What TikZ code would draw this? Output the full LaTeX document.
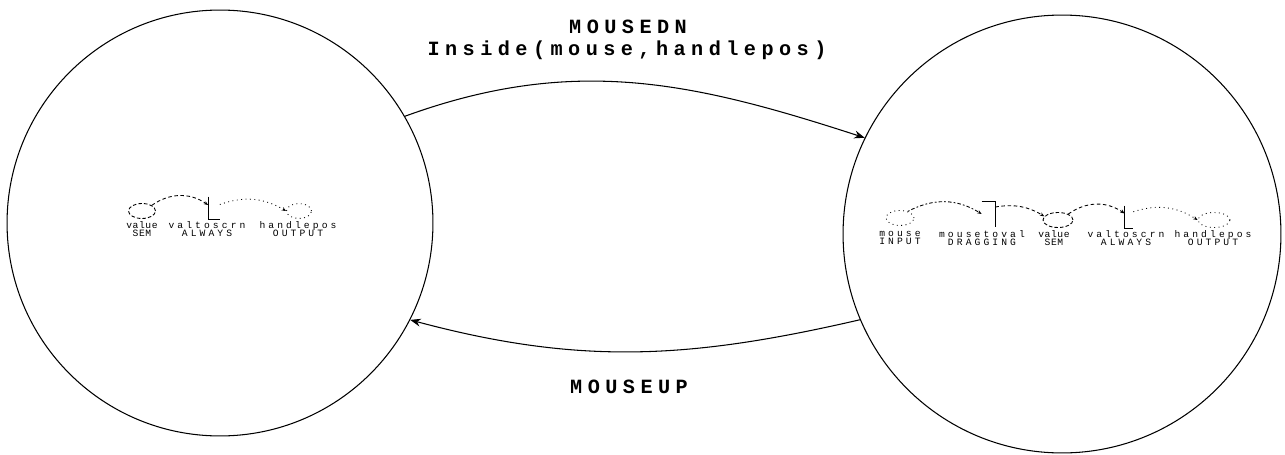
\documentclass[tikz,border=0pt]{standalone}
\usepackage{fontspec}
\newfontfamily\eventmono[LetterSpace=27]{Liberation Mono}
\newfontfamily\tagmono[LetterSpace=32]{Liberation Mono}
\newfontfamily\tagmonotight[LetterSpace=6]{Liberation Mono}
\usetikzlibrary{arrows.meta,shapes.geometric}

\begin{document}
\begin{tikzpicture}[x=0.02cm, y=0.02cm,
  state/.style  = {draw, circle, line width=0.6pt, inner sep=0pt},
  trans/.style  = {line width=0.6pt, -{Stealth[length=6pt,width=4.5pt]}},
  event/.style  = {font=\eventmono\bfseries\fontsize{11.5}{13}\selectfont, inner sep=0pt},
  var/.style    = {draw, ellipse, line width=0.5pt, inner sep=0pt, minimum height=0.3cm},
  sem/.style    = {var, dash pattern=on 2pt off 1.2pt},
  io/.style     = {var, dotted},
  func/.style   = {inner sep=0pt},
  fbar/.style   = {line width=0.7pt},
  flow/.style   = {line width=0.5pt, -{Stealth[length=2.5pt,width=2pt]}},
  tag/.style    = {font=\tagmono\fontsize{5.5}{5}\selectfont, align=center, inner sep=0pt},
  semtag/.style = {tag, font=\tagmonotight\fontsize{5.5}{5}\selectfont},
]
  \useasboundingbox (0,0) rectangle (1285,454);

  % the two states
  \node[state, minimum size=8.52cm] (idle) at (220,231) {};
  \node[state, minimum size=8.76cm] (drag) at (1062,220) {};

  \draw[trans] (idle.30) to[out=20, in=162] (drag.154);
  \draw[trans] (drag.203) to[out=193, in=-15] (idle.333);

  \node[event] (dn)   at (628,427) {MOUSEDN};
  \node[event] (cond) at (627,404) {Inside(mouse,handlepos)};
  \node[event] (up)   at (629,67)  {MOUSEUP};

  % network inside the idle state
  \node[sem, minimum width=0.54cm] (val) at (142,243) {};
  \node[func, minimum width=0.22cm, minimum height=0.44cm] (toscrn) at (214,246) {};
  \draw[fbar] (toscrn.north west) -- (toscrn.south west) -- (toscrn.south east);
  \node[io, minimum width=0.5cm] (hpos) at (299,243) {};

  \node[semtag] (valtag) at (142,225) {value\\SEM};
  \node[tag] (toscrntag) at (207,225) {valtoscrn\\ALWAYS};
  \node[tag] (hpostag)   at (298,225) {handlepos\\OUTPUT};

  \draw[flow, dash pattern=on 2pt off 1.5pt] (val.30) to[bend left=35] ([yshift=1.7pt]toscrn.west);
  \draw[flow, dotted] ([yshift=2pt]toscrn.east) to[bend left=25] (hpos.west);

  % network inside the drag state
  \node[io, minimum width=0.56cm] (mouse) at (900,236) {};
  \node[func, minimum width=0.26cm, minimum height=0.5cm] (tovl) at (988.5,240) {};
  \draw[fbar] (tovl.north west) -- (tovl.north east) -- (tovl.south east);
  \node[sem, minimum width=0.6cm] (val2) at (1058,234) {};
  \node[func, minimum width=0.16cm, minimum height=0.44cm] (toscrn2) at (1129,237) {};
  \draw[fbar] (toscrn2.north west) -- (toscrn2.south west) -- (toscrn2.south east);
  \node[io, minimum width=0.64cm] (hpos2) at (1214,234) {};

  \node[tag] (mousetag)   at (900,216)  {mouse\\INPUT};
  \node[tag] (tovltag)    at (982,216)  {mousetoval\\DRAGGING};
  \node[semtag] (val2tag) at (1054,216) {value\\SEM};
  \node[tag] (toscrn2tag) at (1126,216) {valtoscrn\\ALWAYS};
  \node[tag] (hpos2tag)   at (1213,216) {handlepos\\OUTPUT};

  \draw[flow, dash pattern=on 1pt off 1.2pt on 2pt off 1.2pt] (mouse.40) to[bend left=30] (tovl.west);
  \draw[flow, dash pattern=on 2pt off 1.5pt] ([yshift=4pt]tovl.east) to[bend left=20] (val2.165);
  \draw[flow, dash pattern=on 2pt off 1.5pt] (val2.30) to[bend left=35] ([yshift=2pt]toscrn2.west);
  \draw[flow, dotted] ([yshift=3pt]toscrn2.east) to[bend left=25] (hpos2.west);
\end{tikzpicture}
\end{document}
